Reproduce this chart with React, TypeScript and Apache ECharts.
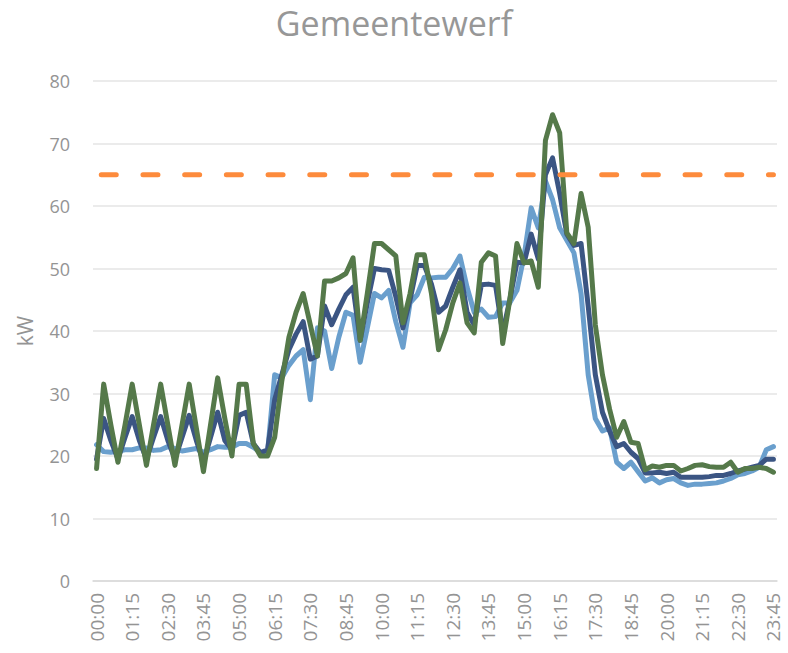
import React, { useEffect, useRef } from "react";
import * as echarts from "echarts";

const times: string[] = [];
for (let h = 0; h < 24; h++) {
  for (let m = 0; m < 60; m += 15) {
    times.push(`${String(h).padStart(2, "0")}:${String(m).padStart(2, "0")}`);
  }
}

const darkBlue = [
  19.5, 26, 22.5, 19.5, 23, 26.3, 22.5, 19.5, 23, 26.3, 22.5, 19.5, 23, 26.5, 22.5, 19, 23, 27, 22.5, 21, 26.5, 27, 22, 20.5,
  21, 29, 33, 37, 39.5, 41.5, 35.5, 36, 44, 41, 43.5, 45.8, 47, 38.5, 44.5, 50, 49.8, 49.7, 45.5, 40.5, 45, 50.5, 50.5, 47.5,
  43, 44, 47, 49.8, 43, 41, 47.4, 47.5, 47.3, 39.7, 45, 51, 50.9, 55.5, 51.5, 65, 67.7, 62, 55.5, 53.7, 54, 44,
  33, 27, 24, 21.5, 22, 20.6, 19.6, 17.3, 17.3, 17.4, 17.2, 17.4, 16.6, 16.6, 16.6, 16.6, 16.7, 16.9, 16.9, 17.2, 17.6, 17.9, 18.2, 18.5, 19.5, 19.5,
];

const lightBlue = [
  21.8, 20.7, 20.6, 20.8, 21, 21, 21.3, 21.3, 20.9, 21, 21.5, 21.2, 20.8, 21, 21.2, 20.6, 21, 21.5, 21.4, 21.4, 22, 22, 21.4, 20.6,
  20.6, 33, 32.5, 34.5, 36, 37, 29, 40.5, 40, 34, 39, 43, 42.5, 35, 40.5, 46, 45.3, 46.5, 41.5, 37.4, 44.5, 45.8, 48.6, 48.5,
  48.6, 48.6, 50, 52, 47, 43, 43.5, 42.2, 42.3, 44.5, 44.5, 46.5, 52, 59.7, 56.5, 64, 61, 56.5, 54.5, 52.5, 46, 33,
  26, 24, 24.5, 19, 18, 19, 17.5, 16, 16.5, 15.7, 16.2, 16.4, 15.7, 15.3, 15.5, 15.5, 15.6, 15.7, 16, 16.4, 17, 17.2, 17.6, 18.2, 21, 21.5,
];

const green = [
  18, 31.5, 25, 19, 25, 31.5, 25, 18.5, 25, 31.5, 25, 18.5, 25, 31.5, 24.5, 17.5, 25, 32.5, 26, 20, 31.5, 31.5, 22, 20,
  20, 23, 32, 39, 43, 46, 41, 36, 48, 48, 48.5, 49.2, 51.7, 38.5, 46, 54, 54, 53, 52, 41.3, 46, 52.2, 52.2, 46,
  37, 40.2, 44.5, 47.7, 41.3, 39.7, 51, 52.5, 52, 38, 45, 54, 50.9, 51.2, 47, 70.5, 74.6, 71.7, 55.7, 54, 62, 56.6,
  41, 33, 27.5, 23, 25.5, 22.2, 22, 17.8, 18.4, 18.2, 18.5, 18.5, 17.6, 18, 18.5, 18.6, 18.3, 18.2, 18.2, 19, 17.4, 18, 18, 18.2, 18, 17.4,
];

const threshold = 65;
const thresholdLine = times.map(() => threshold);

const yTicks = { min: 0, max: 80, interval: 10 };

const FONT = "'Open Sans', sans-serif";
const GREY = "#949494";

export default function App() {
  const ref = useRef<HTMLDivElement>(null);
  useEffect(() => {
    if (!ref.current) return;
    const chart = echarts.init(ref.current, undefined, { renderer: "svg" });
    const lineSeries = (name: string, data: number[], color: string) => ({
      name,
      type: "line",
      data,
      symbol: "none",
      smooth: false,
      lineStyle: { color, width: 5, join: "round", cap: "round" },
      itemStyle: { color },
    });
    chart.setOption({
      animation: false,
      backgroundColor: "#ffffff",
      title: {
        text: "Gemeentewerf",
        left: "center",
        top: 1,
        textStyle: { fontFamily: FONT, fontSize: 34, fontWeight: "normal", color: "#979797" },
      },
      grid: { left: 93, right: 11, top: 81, bottom: 72, containLabel: false },
      xAxis: {
        type: "category",
        data: times,
        boundaryGap: true,
        axisTick: { show: false },
        axisLine: { lineStyle: { color: "#d9d9d9", width: 1.5 } },
        axisLabel: {
          interval: 4,
          rotate: 90,
          color: GREY,
          fontFamily: FONT,
          fontSize: 19,
          margin: 12,
        },
      },
      yAxis: {
        type: "value",
        ...yTicks,
        name: "kW",
        nameLocation: "middle",
        nameRotate: 90,
        nameGap: 58,
        nameTextStyle: { color: GREY, fontFamily: FONT, fontSize: 21 },
        axisLine: { show: false },
        axisTick: { show: false },
        axisLabel: { color: GREY, fontFamily: FONT, fontSize: 18, margin: 23 },
        splitLine: { lineStyle: { color: "#e4e4e4", width: 1.5 } },
      },
      series: [
        lineSeries("Light", lightBlue, "#6a9fcd"),
        lineSeries("Dark", darkBlue, "#3b5583"),
        lineSeries("Green", green, "#55794a"),
        {
          name: "Limit",
          type: "line",
          data: thresholdLine,
          symbol: "none",
          lineStyle: { color: "#fd8b3c", width: 5, type: [15, 26.7], dashOffset: 36.7, cap: "round" },
          itemStyle: { color: "#fd8b3c" },
        },
      ],
    });
    return () => chart.dispose();
  }, []);
  return (
    <div
      ref={ref}
      style={{ position: "fixed", left: 0, top: 0, width: 788, height: 653, background: "#fff" }}
    />
  );
}
